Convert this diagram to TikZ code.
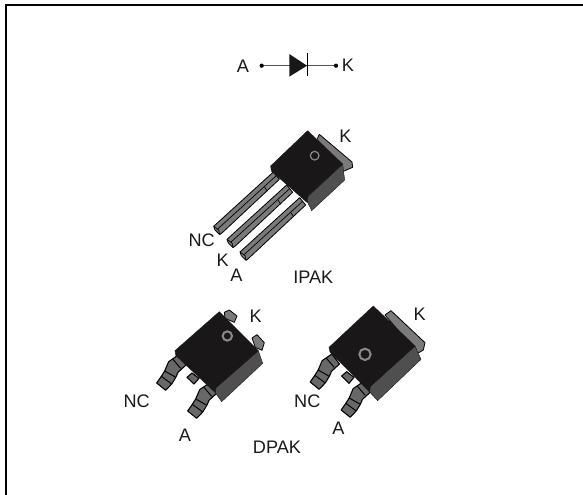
\documentclass[tikz,border=0pt]{standalone}
\usepackage{fontspec}
\setmainfont{Liberation Sans}
\definecolor{bodyblack}{HTML}{1A1718}
\definecolor{sidegray}{HTML}{4F4F4F}
\definecolor{leadgray}{HTML}{7A7A7A}
\definecolor{gullgray}{HTML}{686868}
\definecolor{ringgray}{HTML}{8A8A8A}
\definecolor{wiregray}{HTML}{555555}
\tikzset{
  x=0.75pt,y=-0.75pt,
  lbl/.style={inner sep=0pt,font=\fontsize{13.6}{15}\selectfont,text=black!90},
  topface/.style={fill=bodyblack,draw=bodyblack,line width=.3pt,line join=round},
  sideface/.style={fill=sidegray,draw=bodyblack,line width=.3pt,line join=round},
  metal/.style={fill=leadgray,draw=black,line width=.6pt,line join=round},
  gull/.style={fill=gullgray,draw=black,line width=.8pt,line join=round},
  ring/.style={draw=ringgray,line width=.9pt},
  bigring/.style={draw=ringgray,line width=1.5pt},
  dotnode/.style={circle,fill=black,inner sep=0pt,minimum size=3.2pt},
  wire/.style={draw=wiregray,line width=.6pt},
  frame/.style={draw=black,line width=1.5pt}
}
\newcommand{\gullshape}{%
  \path[gull] (85,30)--(56,50)--(44,78)--(34,94)--(20,114)--(47,136)--(66,116)--(78,96)--(84,82)--(108,60)--cycle;
  \draw[black,line width=.7pt] (68,42)--(92,70) (44,78)--(76,96) (34,94)--(64,116);}
\newcommand{\gullleads}{%
  \begin{scope}[shift={(150,345)},scale=1/3]
    \gullshape
    \begin{scope}[shift={(93,84)}]
      \gullshape
    \end{scope}
  \end{scope}}
\begin{document}
\begin{tikzpicture}
\useasboundingbox (0,0) rectangle (583,495);
% page frame
\path[frame] (6,495)--(6,5)--(583,5);

% diode
\node[dotnode] (da) at (261.7,65.7) {};
\node[dotnode] (dk) at (336,65.7) {};
\draw[wire] (da)--(dk);
\fill[bodyblack] (289.3,54)--(289.3,76.7)--(307,65.7)--cycle;
\draw[black,line width=.6pt] (307.3,53.3)--(307.3,76);
\node[lbl] (la) at (243,66) {A};
\node[lbl] (lk) at (348,65.7) {K};

% IPAK
\begin{scope}[shift={(170,90)},scale=1/3]
  % tab
  \path[metal] (448,133)--(546,216)--(548,232)--(520,244)--(440,150)--cycle;
  % legs
  \foreach \dx/\dy in {0/0,40/39,79/77}{
    \begin{scope}[shift={(\dx,\dy)}]
      \path[metal] (310,246)--(131,409)--(135,420)--(149,434)--(157,428)--(328,268)--cycle;
      \draw[black,line width=.5pt] (142,418)--(319,257);
      \draw[black,line width=.5pt] (131,409)--(146,420)--(149,434);
      \draw[black,line width=.5pt] (284,291)--(292,304);
    \end{scope}
  }
  % side
  \path[sideface] (412,322)--(518,222)--(524,270)--(425,362)--(412,335)--cycle;
  % rim
  \path[topface] (302,228)--(304,243)--(412,338)--(412,318)--cycle;
  % top
  \path[topface] (413,122)--(302,228)--(412,320)--(518,222)--cycle;
  \draw[ring] (434,197) circle (13);
\end{scope}
\node[lbl] (ik) at (345.3,136.7) {K};
\node[lbl] (inc) at (201.7,240.7) {NC};
\node[lbl] (ik2) at (222.7,260.7) {K};
\node[lbl] (ia) at (236.3,275.7) {A};
\node[lbl] (ipak) at (313.3,277.7) {IPAK};

% left DPAK
\gullleads
\begin{scope}[shift={(110,290)},scale=1/3]
  % top tabs
  \path[metal] (343,67)--(358,60)--(381,78)--(373,97)--(345,85)--cycle;
  \path[metal] (426,144)--(441,134)--(463,158)--(456,181)--(436,172)--cycle;
  % stub
  \path[gull] (231,262)--(246,249)--(267,265)--(252,282)--cycle;
  % side
  \path[sideface] (318,293)--(445,182)--(458,220)--(335,335)--(316,308)--cycle;
  % rim and top
  \path[topface] (195,182)--(197,196)--(316,308)--(318,290)--cycle;
  \path[topface] (328,65)--(195,182)--(318,293)--(445,182)--cycle;
  \draw[bigring] (352,138) circle (14);
\end{scope}
\node[lbl] (lk1) at (255.7,316.7) {K};
\node[lbl] (lnc) at (136.7,401.7) {NC};
\node[lbl] (la1) at (185,435.7) {A};
\node[lbl] (dpak) at (277,447) {DPAK};

% right DPAK
\begin{scope}[shift={(153.5,-1)}]
  \gullleads
\end{scope}
\begin{scope}[shift={(285,290)},scale=1/3]
  % tab
  \path[metal] (300,75)--(318,62)--(420,158)--(415,180)--(398,190)--cycle;
  % stub
  \path[gull] (170,258)--(185,245)--(207,262)--(192,280)--cycle;
  % side
  \path[sideface] (255,290)--(390,168)--(408,208)--(278,332)--(254,306)--cycle;
  % rim and top
  \path[topface] (132,172)--(135,186)--(254,306)--(256,288)--cycle;
  \path[topface] (265,48)--(132,172)--(255,290)--(390,168)--cycle;
  \draw[bigring] (240,193) circle (17);
\end{scope}
\node[lbl] (rk) at (419.7,314.3) {K};
\node[lbl] (rnc) at (307.3,401.7) {NC};
\node[lbl] (ra) at (338.3,428.3) {A};
\end{tikzpicture}
\end{document}
